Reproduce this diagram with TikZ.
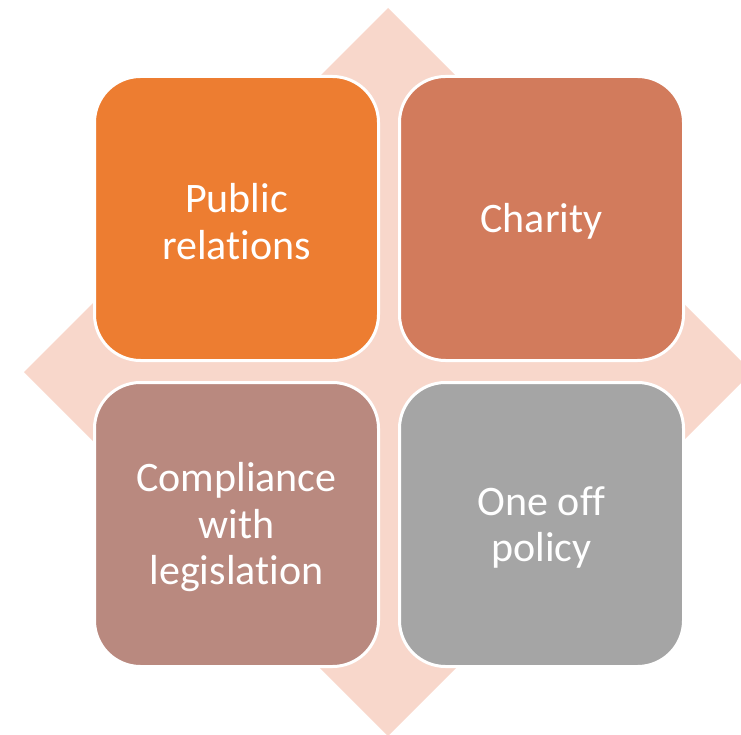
\documentclass[tikz,border=0pt]{standalone}
\usepackage{fontspec}
\setmainfont[Ligatures=NoCommon,RawFeature={-liga;-dlig}]{Carlito}
\definecolor{diamondc}{RGB}{248,215,203}
\definecolor{c1}{RGB}{237,125,49}
\definecolor{c2}{RGB}{210,123,92}
\definecolor{c3}{RGB}{185,137,127}
\definecolor{c4}{RGB}{165,165,165}
\tikzset{
  quad/.style={draw=white, line width=3pt, rounded corners=46pt,
    minimum width=284pt, minimum height=284pt, inner sep=0pt},
  quadtext/.style={text=white, align=center, inner sep=0pt,
    font=\fontsize{42}{46.5}\selectfont}
}
\begin{document}
\begin{tikzpicture}[x=1pt,y=-1pt]
\useasboundingbox (0,0) rectangle (741,735);
\begin{scope}
\clip (0,0) rectangle (741,735);
\fill[diamondc] (388,8) -- (752,372) -- (388,736) -- (24,372) -- cycle;
\end{scope}
\node[quad, fill=c1] (pr) at (236.5,218.5) {};
\node[quad, fill=c2] (ch) at (541.5,218.5) {};
\node[quad, fill=c3] (cw) at (236.5,524.5) {};
\node[quad, fill=c4] (oo) at (541.5,524.5) {};
\node[quadtext, yshift=-3pt] (prt) at (pr.center) {Public\\relations};
\node[quadtext, yshift=-3pt] (cht) at (ch.center) {Charity};
\node[quadtext, yshift=-3pt] (cwt) at (cw.center) {Compliance\\with\\legislation};
\node[quadtext, yshift=-3pt] (oot) at (oo.center) {One off\\policy};
\end{tikzpicture}
\end{document}
